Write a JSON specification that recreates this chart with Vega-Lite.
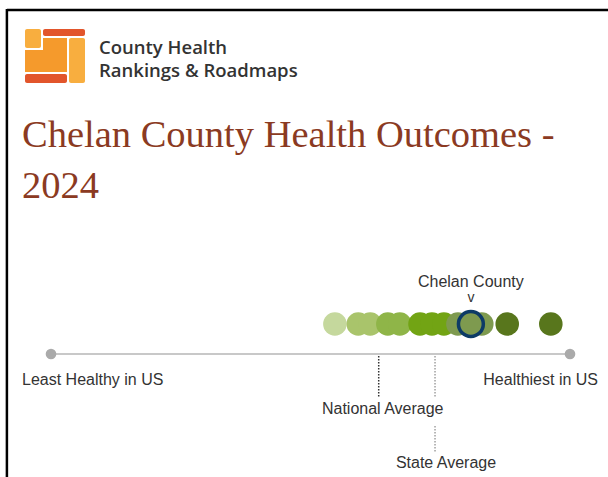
{
  "$schema": "https://vega.github.io/schema/vega-lite/v6.json",
  "width": 608,
  "height": 477,
  "padding": 0,
  "autosize": {"type": "none"},
  "background": "white",
  "config": {"view": {"stroke": null}},
  "datasets": {
    "one": [{}],
    "counties": [
      {"county": "", "score": 54.7, "band": 1},
      {"county": "", "score": 59.2, "band": 2},
      {"county": "", "score": 61.5, "band": 2},
      {"county": "", "score": 64.9, "band": 3},
      {"county": "", "score": 67.2, "band": 3},
      {"county": "", "score": 71.1, "band": 4},
      {"county": "", "score": 73.4, "band": 4},
      {"county": "", "score": 75.7, "band": 4},
      {"county": "", "score": 78.4, "band": 5},
      {"county": "", "score": 83.0, "band": 5},
      {"county": "Chelan County", "score": 80.9, "band": 5},
      {"county": "", "score": 87.9, "band": 6},
      {"county": "", "score": 96.3, "band": 6}
    ],
    "ends": [
      {"label": "Least Healthy in US", "score": 0},
      {"label": "Healthiest in US", "score": 100}
    ],
    "averages": [
      {"label": "National Average", "score": 63.14},
      {"label": "State Average", "score": 73.99}
    ]
  },
  "layer": [
    {
      "data": {"name": "one"},
      "mark": {"type": "rule", "color": "#000000", "strokeWidth": 2.5},
      "encoding": {
        "x": {"datum": -8.5, "type": "quantitative", "scale": {"domain": [-9.83, 107.32], "nice": false, "zero": false}, "axis": null},
        "x2": {"datum": 107.32},
        "y": {"datum": 10, "type": "quantitative", "scale": {"domain": [0, 477], "reverse": true, "nice": false, "zero": false}, "axis": null}
      }
    },
    {
      "data": {"name": "one"},
      "mark": {"type": "rule", "color": "#000000", "strokeWidth": 2.5},
      "encoding": {
        "x": {"datum": -8.5, "type": "quantitative"},
        "y": {"datum": 9, "type": "quantitative"},
        "y2": {"datum": 477}
      }
    },
    {
      "data": {"name": "one"},
      "mark": {"type": "rect", "color": "#f8ae3f", "cornerRadius": 2},
      "encoding": {
        "x": {"datum": -5.01, "type": "quantitative"}, "x2": {"datum": -1.93},
        "y": {"datum": 29, "type": "quantitative"}, "y2": {"datum": 48}
      }
    },
    {
      "data": {"name": "one"},
      "mark": {"type": "rect", "color": "#e2552b", "cornerRadius": 2},
      "encoding": {
        "x": {"datum": -1.54, "type": "quantitative"}, "x2": {"datum": 6.55},
        "y": {"datum": 29, "type": "quantitative"}, "y2": {"datum": 36}
      }
    },
    {
      "data": {"name": "one"},
      "mark": {"type": "rect", "color": "#f59a2c"},
      "encoding": {
        "x": {"datum": -1.54, "type": "quantitative"}, "x2": {"datum": 3.08},
        "y": {"datum": 38, "type": "quantitative"}, "y2": {"datum": 72}
      }
    },
    {
      "data": {"name": "one"},
      "mark": {"type": "rect", "color": "#f59a2c"},
      "encoding": {
        "x": {"datum": -5.01, "type": "quantitative"}, "x2": {"datum": 3.08},
        "y": {"datum": 50, "type": "quantitative"}, "y2": {"datum": 72}
      }
    },
    {
      "data": {"name": "one"},
      "mark": {"type": "rect", "color": "#f8ae3f", "cornerRadius": 2},
      "encoding": {
        "x": {"datum": 3.47, "type": "quantitative"}, "x2": {"datum": 6.55},
        "y": {"datum": 38, "type": "quantitative"}, "y2": {"datum": 83}
      }
    },
    {
      "data": {"name": "one"},
      "mark": {"type": "rect", "color": "#e2552b", "cornerRadius": 2},
      "encoding": {
        "x": {"datum": -5.01, "type": "quantitative"}, "x2": {"datum": 3.08},
        "y": {"datum": 74, "type": "quantitative"}, "y2": {"datum": 83}
      }
    },
    {
      "data": {"name": "one"},
      "mark": {"type": "text", "text": "County Health", "align": "left", "baseline": "alphabetic", "font": "Open Sans", "fontWeight": 600, "fontSize": 18.5, "color": "#333333"},
      "encoding": {
        "x": {"datum": 9.25, "type": "quantitative"},
        "y": {"datum": 54, "type": "quantitative"}
      }
    },
    {
      "data": {"name": "one"},
      "mark": {"type": "text", "text": "Rankings & Roadmaps", "align": "left", "baseline": "alphabetic", "font": "Open Sans", "fontWeight": 600, "fontSize": 18.5, "color": "#333333"},
      "encoding": {
        "x": {"datum": 9.25, "type": "quantitative"},
        "y": {"datum": 77, "type": "quantitative"}
      }
    },
    {
      "data": {"name": "one"},
      "mark": {"type": "text", "text": "Chelan County Health Outcomes -", "align": "left", "baseline": "alphabetic", "font": "Liberation Serif", "fontSize": 38.5, "color": "#8b3a22"},
      "encoding": {
        "x": {"datum": -5.59, "type": "quantitative"},
        "y": {"datum": 147, "type": "quantitative"}
      }
    },
    {
      "data": {"name": "one"},
      "mark": {"type": "text", "text": "2024", "align": "left", "baseline": "alphabetic", "font": "Liberation Serif", "fontSize": 38.5, "color": "#8b3a22"},
      "encoding": {
        "x": {"datum": -5.59, "type": "quantitative"},
        "y": {"datum": 198, "type": "quantitative"}
      }
    },
    {
      "data": {"name": "one"},
      "mark": {"type": "rule", "color": "#c8c8c8", "strokeWidth": 2},
      "encoding": {
        "x": {"datum": 0, "type": "quantitative"}, "x2": {"datum": 100},
        "y": {"datum": 354, "type": "quantitative"}
      }
    },
    {
      "data": {"name": "ends"},
      "mark": {"type": "point", "filled": true, "color": "#aaaaaa", "opacity": 1, "size": 113},
      "encoding": {
        "x": {"field": "score", "type": "quantitative"},
        "y": {"datum": 354, "type": "quantitative"}
      }
    },
    {
      "data": {"name": "ends"},
      "transform": [{"filter": "datum.score == 0"}],
      "mark": {"type": "text", "align": "left", "baseline": "alphabetic", "dx": -29, "font": "Liberation Sans", "fontSize": 16, "color": "#333333"},
      "encoding": {
        "x": {"field": "score", "type": "quantitative"},
        "y": {"datum": 385, "type": "quantitative"},
        "text": {"field": "label"}
      }
    },
    {
      "data": {"name": "ends"},
      "transform": [{"filter": "datum.score == 100"}],
      "mark": {"type": "text", "align": "right", "baseline": "alphabetic", "dx": 28, "font": "Liberation Sans", "fontSize": 16, "color": "#333333"},
      "encoding": {
        "x": {"field": "score", "type": "quantitative"},
        "y": {"datum": 385, "type": "quantitative"},
        "text": {"field": "label"}
      }
    },
    {
      "data": {"name": "averages"},
      "transform": [{"filter": "datum.label == 'National Average'"}],
      "mark": {"type": "rule", "color": "#333333", "strokeWidth": 1.5, "strokeDash": [1.5, 1.5]},
      "encoding": {
        "x": {"field": "score", "type": "quantitative"},
        "y": {"datum": 356, "type": "quantitative"}, "y2": {"datum": 398}
      }
    },
    {
      "data": {"name": "averages"},
      "transform": [{"filter": "datum.label == 'State Average'"}],
      "mark": {"type": "rule", "color": "#a0a0a0", "strokeWidth": 1.5, "strokeDash": [1.5, 1.5]},
      "encoding": {
        "x": {"field": "score", "type": "quantitative"},
        "y": {"datum": 356, "type": "quantitative"}, "y2": {"datum": 398}
      }
    },
    {
      "data": {"name": "averages"},
      "transform": [{"filter": "datum.label == 'State Average'"}],
      "mark": {"type": "rule", "color": "#a0a0a0", "strokeWidth": 1.5, "strokeDash": [1.5, 1.5]},
      "encoding": {
        "x": {"field": "score", "type": "quantitative"},
        "y": {"datum": 426, "type": "quantitative"}, "y2": {"datum": 452}
      }
    },
    {
      "data": {"name": "averages"},
      "transform": [{"filter": "datum.label == 'National Average'"}],
      "mark": {"type": "text", "align": "center", "baseline": "alphabetic", "dx": 4, "font": "Liberation Sans", "fontSize": 16, "color": "#333333"},
      "encoding": {
        "x": {"field": "score", "type": "quantitative"},
        "y": {"datum": 414, "type": "quantitative"},
        "text": {"field": "label"}
      }
    },
    {
      "data": {"name": "averages"},
      "transform": [{"filter": "datum.label == 'State Average'"}],
      "mark": {"type": "text", "align": "center", "baseline": "alphabetic", "dx": 11, "font": "Liberation Sans", "fontSize": 16, "color": "#333333"},
      "encoding": {
        "x": {"field": "score", "type": "quantitative"},
        "y": {"datum": 468, "type": "quantitative"},
        "text": {"field": "label"}
      }
    },
    {
      "data": {"name": "counties"},
      "transform": [{"filter": "datum.county != 'Chelan County'"}],
      "mark": {"type": "point", "filled": true, "opacity": 1, "size": 556},
      "encoding": {
        "x": {"field": "score", "type": "quantitative"},
        "y": {"datum": 324, "type": "quantitative"},
        "color": {"field": "band", "type": "ordinal", "legend": null,
          "scale": {"domain": [1, 2, 3, 4, 5, 6], "range": ["#c5d89d", "#a9c46b", "#8fb548", "#72a414", "#7e9a4f", "#58761c"]}}
      }
    },
    {
      "data": {"name": "counties"},
      "transform": [{"filter": "datum.county == 'Chelan County'"}],
      "mark": {"type": "point", "filled": true, "opacity": 1, "fill": "#7e9a4f", "stroke": "#0d3b66", "strokeWidth": 3.5, "strokeOpacity": 1, "size": 620},
      "encoding": {
        "x": {"field": "score", "type": "quantitative"},
        "y": {"datum": 324, "type": "quantitative"}
      }
    },
    {
      "data": {"name": "counties"},
      "transform": [{"filter": "datum.county == 'Chelan County'"}],
      "mark": {"type": "text", "align": "center", "baseline": "alphabetic", "font": "Liberation Sans", "fontSize": 16, "color": "#333333"},
      "encoding": {
        "x": {"field": "score", "type": "quantitative"},
        "y": {"datum": 287, "type": "quantitative"},
        "text": {"field": "county"}
      }
    },
    {
      "data": {"name": "counties"},
      "transform": [{"filter": "datum.county == 'Chelan County'"}],
      "mark": {"type": "text", "text": "v", "align": "center", "baseline": "alphabetic", "font": "Liberation Sans", "fontSize": 14, "color": "#333333"},
      "encoding": {
        "x": {"field": "score", "type": "quantitative"},
        "y": {"datum": 302, "type": "quantitative"}
      }
    }
  ]
}
